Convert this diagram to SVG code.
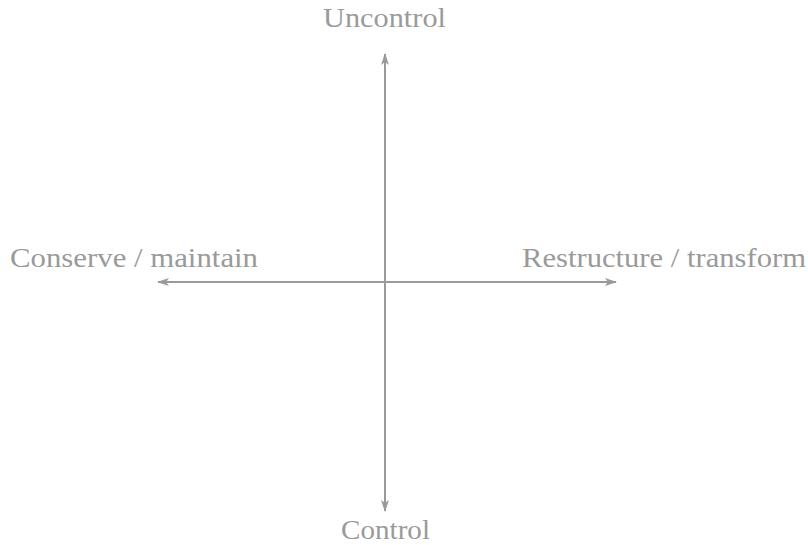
<svg xmlns="http://www.w3.org/2000/svg" width="808" height="545" viewBox="0 0 808 545">
<style>
.lbl{font-family:"Liberation Serif","Times New Roman",serif;font-size:27px;fill:#9a9a9a}
.ax{stroke:#9a9a9a;stroke-width:2;fill:none}
</style>
<defs>
<marker id="ah" viewBox="0 0 12 8" refX="11" refY="4" markerWidth="12" markerHeight="8" markerUnits="userSpaceOnUse" orient="auto">
<path d="M0,0 L12,4 L0,8 L3,4 Z" fill="#9a9a9a"/>
</marker>
</defs>
<rect width="808" height="545" fill="#ffffff"/>
<g id="connectors">
<line class="ax" x1="385" y1="282" x2="385" y2="54" marker-end="url(#ah)"/>
<line class="ax" x1="385" y1="282" x2="385" y2="511" marker-end="url(#ah)"/>
<line class="ax" x1="385" y1="282" x2="158" y2="282" marker-end="url(#ah)"/>
<line class="ax" x1="385" y1="282" x2="616" y2="282" marker-end="url(#ah)"/>
</g>
<g id="uncontrol"><text class="lbl" x="323" y="27" textLength="123" lengthAdjust="spacingAndGlyphs">Uncontrol</text></g>
<g id="control"><text class="lbl" x="341" y="539" textLength="89" lengthAdjust="spacingAndGlyphs">Control</text></g>
<g id="conserve"><text class="lbl" x="10" y="267" textLength="248" lengthAdjust="spacingAndGlyphs">Conserve / maintain</text></g>
<g id="restructure"><text class="lbl" x="522" y="267" textLength="284" lengthAdjust="spacingAndGlyphs">Restructure / transform</text></g>
</svg>
